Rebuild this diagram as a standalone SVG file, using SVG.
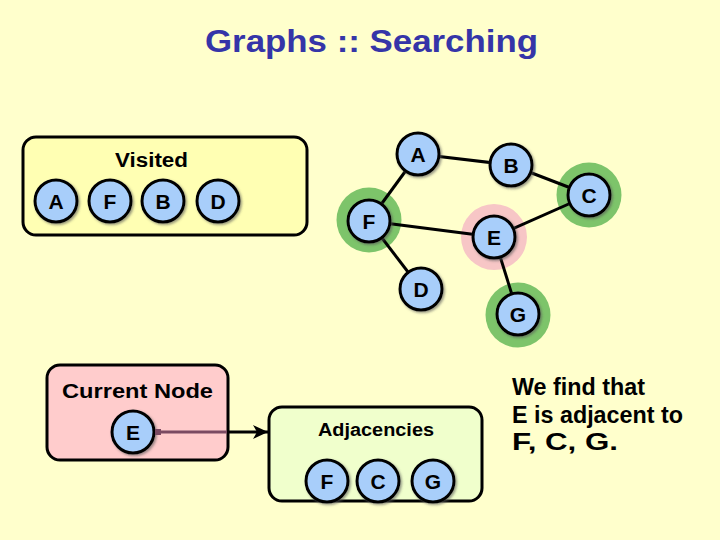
<svg xmlns="http://www.w3.org/2000/svg" width="720" height="540" viewBox="0 0 720 540">
<defs>
<style>
.bg{fill:#ffffcc}
.box{stroke:#000;stroke-width:3}
.nd{fill:#a8cefa;stroke:#000;stroke-width:3;filter:url(#sh)}
.lb{font-family:"Liberation Sans",Arial,sans-serif;font-weight:bold;font-size:21px;text-anchor:middle;fill:#000}
.tx{font-family:"Liberation Sans",Arial,sans-serif;font-weight:bold;fill:#000}
.edge{stroke:#000;stroke-width:3;fill:none}
.hg{fill:#7dc46a}
.hp{fill:#f7c6c6}
</style>
<filter id="sh" x="-30%" y="-30%" width="160%" height="160%">
<feDropShadow dx="1.5" dy="1.5" stdDeviation="0.8" flood-color="#555" flood-opacity="0.6"/>
</filter>
<marker id="sq" markerWidth="8" markerHeight="8" refX="4" refY="4" markerUnits="userSpaceOnUse">
<rect x="1" y="1" width="6" height="6" fill="#7a4a62"/>
</marker>
<marker id="arr" markerWidth="16" markerHeight="14" refX="15" refY="7" markerUnits="userSpaceOnUse" orient="auto">
<path d="M0,0 L15,7 L0,14 L4,7 Z" fill="#000"/>
</marker>
</defs>
<rect class="bg" x="0" y="0" width="720" height="540"/>
<text class="tx" x="205" y="52" font-size="31" style="fill:#3535a8" textLength="333" lengthAdjust="spacingAndGlyphs">Graphs :: Searching</text>

<g id="visited">
<rect class="box" x="23" y="137" width="284" height="98" rx="13" fill="#ffffb3"/>
<text class="tx" x="115" y="167" font-size="20" textLength="73" lengthAdjust="spacingAndGlyphs">Visited</text>
<circle class="nd" cx="56" cy="201" r="21"/><text class="lb" x="56" y="209">A</text>
<circle class="nd" cx="110" cy="201" r="21"/><text class="lb" x="110" y="209">F</text>
<circle class="nd" cx="163" cy="201" r="21"/><text class="lb" x="163" y="209">B</text>
<circle class="nd" cx="218" cy="201" r="21"/><text class="lb" x="218" y="209">D</text>
</g>

<g id="highlights">
<circle class="hg" cx="369" cy="220" r="32.5"/>
<circle class="hg" cx="589" cy="195" r="32.5"/>
<circle class="hg" cx="518" cy="315" r="32.5"/>
<circle class="hp" cx="494" cy="237" r="33"/>
</g>

<g id="current-node">
<rect class="box" x="47" y="365" width="181" height="95" rx="13" fill="#ffcccc"/>
<text class="tx" x="62" y="398" font-size="21" textLength="151" lengthAdjust="spacingAndGlyphs">Current Node</text>
<circle class="nd" cx="133" cy="432" r="21"/><text class="lb" x="133" y="440">E</text>
</g>

<g id="adjacencies">
<rect class="box" x="269" y="407" width="213" height="94" rx="13" fill="#f0ffcc"/>
<text class="tx" x="318" y="436" font-size="18" textLength="116" lengthAdjust="spacingAndGlyphs">Adjacencies</text>
<circle class="nd" cx="327" cy="481" r="21"/><text class="lb" x="327" y="489">F</text>
<circle class="nd" cx="378" cy="481" r="21"/><text class="lb" x="378" y="489">C</text>
<circle class="nd" cx="433" cy="481" r="21"/><text class="lb" x="433" y="489">G</text>
</g>

<g id="connectors">
<line class="edge" x1="418" y1="154" x2="511" y2="165"/>
<line class="edge" x1="418" y1="154" x2="369" y2="221"/>
<line class="edge" x1="511" y1="165" x2="589" y2="195"/>
<line class="edge" x1="369" y1="221" x2="494" y2="237"/>
<line class="edge" x1="589" y1="195" x2="494" y2="237"/>
<line class="edge" x1="369" y1="221" x2="421" y2="289"/>
<line class="edge" x1="494" y1="237" x2="518" y2="314"/>
<line x1="158" y1="432" x2="227" y2="432" stroke="#7a4a62" stroke-width="3" marker-start="url(#sq)"/>
<line x1="227" y1="432" x2="268" y2="432" stroke="#000" stroke-width="3" marker-end="url(#arr)"/>
</g>

<g id="node-A"><circle class="nd" cx="418" cy="154" r="21"/><text class="lb" x="418" y="162">A</text></g>
<g id="node-B"><circle class="nd" cx="511" cy="165" r="21"/><text class="lb" x="511" y="173">B</text></g>
<g id="node-C"><circle class="nd" cx="589" cy="195" r="21"/><text class="lb" x="589" y="203">C</text></g>
<g id="node-F"><circle class="nd" cx="369" cy="221" r="21"/><text class="lb" x="369" y="229">F</text></g>
<g id="node-E"><circle class="nd" cx="494" cy="237" r="21"/><text class="lb" x="494" y="245">E</text></g>
<g id="node-D"><circle class="nd" cx="421" cy="289" r="21"/><text class="lb" x="421" y="297">D</text></g>
<g id="node-G"><circle class="nd" cx="518" cy="314" r="21"/><text class="lb" x="518" y="322">G</text></g>

<g id="note">
<text class="tx" x="512" y="395" font-size="23" textLength="133" lengthAdjust="spacingAndGlyphs">We find that</text>
<text class="tx" x="512" y="423" font-size="23" textLength="171" lengthAdjust="spacingAndGlyphs">E is adjacent to</text>
<text class="tx" x="512" y="450" font-size="23" textLength="106" lengthAdjust="spacingAndGlyphs">F, C, G.</text>
</g>
</svg>
